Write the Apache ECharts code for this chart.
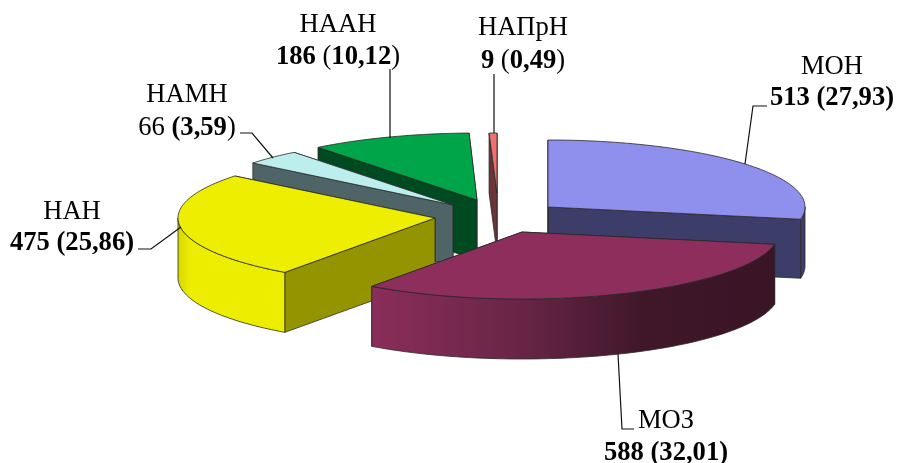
<!DOCTYPE html>
<html>
<head>
<meta charset="utf-8">
<style>html,body{margin:0;padding:0;background:#fff}#c{width:897px;height:463px}</style>
<script src="https://cdn.jsdelivr.net/npm/echarts@6/dist/echarts.min.js"></script>
</head>
<body>
<div id="c"></div>
<script>
// Data (clockwise from 12 o'clock)
const categories = ['МОН', 'МОЗ', 'НАН', 'НАМН', 'НААН', 'НАПрН'];
const counts = [513, 588, 475, 66, 186, 9];
const valueLabels = ['{b|513 (27,93)}', '{b|588 (32,01)}', '{b|475 (25,86)}', '66 {b|(3,59})', '{b|186} ({b|10,12})', '{b|9} ({b|0,49})'];

// Presentation (not data)
const RX = 257, DEPTH = 60;
const radiiY = [67, 67, 67, 67, 67, 60];
const depths = [59, 60, 60, 60, 60, 60];
const apex = [[548, 207], [522, 232], [435, 218], [453, 205], [477, 200], [497, 193]];
const faceColors = ['#8f8fee', '#8d2e5c', '#eeee00', '#bdeeee', '#00a54a', '#ef7070'];
const wallColors = ['#3d3d69', '#3a1526', '#949400', '#4f6466', '#004a22', '#6b3535'];
const drawOrder = [5, 4, 3, 0, 2, 1];
const textAnchors = [[832, 67, 98], [666, 421, 453], [72, 212, 243], [187, 95, 128], [338, 25, 57], [523, 28, 61]];
const leaders = [
  [[767, 106], [753, 106], [745, 164]],
  [[634, 429], [622, 429], [618, 354]],
  [[138, 249], [151, 249], [181, 227]],
  [[240, 133], [252, 133], [273, 158]],
  [[390, 69], [390, 138]],
  [[494, 74], [494, 133]]
];
const FONT = '"Liberation Serif","Times New Roman",serif';
const FS = 26.6;
const EDGE = { stroke: '#2a2a2a', lineWidth: 0.8, lineJoin: 'round' };

const total = counts.reduce((a, b) => a + b, 0);
const startAngles = counts.map((_, i) => counts.slice(0, i).reduce((a, b) => a + b, 0) / total * 360);

function pt(i, deg, dy) {
  const r = deg * Math.PI / 180;
  return [apex[i][0] + RX * Math.sin(r), apex[i][1] - radiiY[i] * Math.cos(r) + (dy || 0)];
}
function arc(i, a0, a1, dy) {
  const out = [], n = Math.max(2, Math.ceil((a1 - a0) / 1.5));
  for (let k = 0; k <= n; k++) out.push(pt(i, a0 + (a1 - a0) * k / n, dy));
  return out;
}
function poly(points, fill, z2) {
  return { type: 'polygon', z2, shape: { points }, style: Object.assign({ fill }, EDGE) };
}
function outerFill(i) {
  if (i === 1) return new echarts.graphic.LinearGradient(0, 0, 1, 0, [
    { offset: 0, color: '#8a2d5a' }, { offset: 0.35, color: '#6a2647' },
    { offset: 0.68, color: '#3f1729' }, { offset: 1, color: '#3a1526' }]);
  if (i === 2) return new echarts.graphic.LinearGradient(0, 0, 1, 0, [
    { offset: 0, color: '#d6d600' }, { offset: 0.12, color: '#eded00' }, { offset: 1, color: '#eded00' }]);
  return wallColors[i];
}
function renderSlice(params, api) {
  const i = params.dataIndex;
  const a0 = startAngles[i];
  const a1 = a0 + api.value(0) / total * 360;
  const base = drawOrder.indexOf(i) * 10;
  const d = depths[i];
  const A = apex[i], Ab = [A[0], A[1] + d];
  const kids = [];
  const s = pt(i, a0), sb = pt(i, a0, d), e = pt(i, a1), eb = pt(i, a1, d);
  kids.push(poly([A, e, eb, Ab], wallColors[i], base));
  kids.push(poly([A, s, sb, Ab], wallColors[i], base + 1));
  const f0 = Math.max(a0, 90), f1 = Math.min(a1, 270);
  if (f1 > f0) {
    kids.push(poly(arc(i, f0, f1, 0).concat(arc(i, f0, f1, d).reverse()), outerFill(i), base + 2));
  }
  kids.push(poly([A].concat(arc(i, a0, a1, 0)), faceColors[i], base + 3));
  return { type: 'group', children: kids };
}
function renderLabel(params) {
  const i = params.dataIndex, t = textAnchors[i];
  const base = { fill: '#000', font: FS + 'px ' + FONT, align: 'center', verticalAlign: 'middle' };
  return { type: 'group', children: [
    { type: 'polyline', z2: 100, shape: { points: leaders[i] }, style: { stroke: '#111', lineWidth: 1.2, fill: null } },
    { type: 'text', z2: 101, style: Object.assign({}, base, { x: t[0], y: t[1], text: categories[i] }) },
    { type: 'text', z2: 101, style: Object.assign({}, base, { x: t[0], y: t[2], text: valueLabels[i],
        rich: { b: { font: 'bold ' + FS + 'px ' + FONT, fill: '#000' } } }) }
  ] };
}
const chart = echarts.init(document.getElementById('c'), null, { renderer: 'canvas' });
const seriesData = counts.map((v, i) => ({ name: categories[i], value: v }));
chart.setOption({
  animation: false,
  backgroundColor: '#fff',
  series: [
    { type: 'custom', coordinateSystem: 'none', renderItem: renderSlice, data: seriesData, silent: true, z: 2 },
    { type: 'custom', coordinateSystem: 'none', renderItem: renderLabel, data: seriesData, silent: true, z: 3 }
  ]
});
</script>
</body>
</html>
